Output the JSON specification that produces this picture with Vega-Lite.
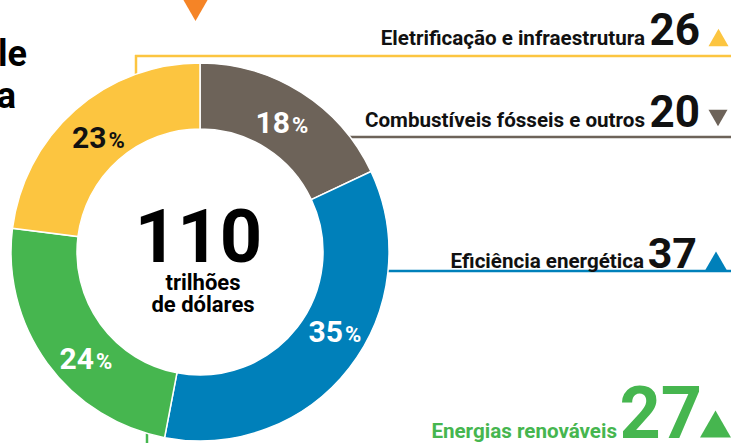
{
  "$schema": "https://vega.github.io/schema/vega-lite/v6.json",
  "width": 731,
  "height": 443,
  "autosize": "none",
  "padding": 0,
  "background": "#ffffff",
  "config": {"view": {"stroke": null}, "font": "Roboto"},
  "datasets": {
    "segmentos": [
      {"categoria": "Combustíveis fósseis e outros", "participacao": 18, "valor": 20, "tendencia": "queda", "ordem": 1},
      {"categoria": "Eficiência energética", "participacao": 35, "valor": 37, "tendencia": "alta", "ordem": 2},
      {"categoria": "Energias renováveis", "participacao": 24, "valor": 27, "tendencia": "alta", "ordem": 3},
      {"categoria": "Eletrificação e infraestrutura", "participacao": 23, "valor": 26, "tendencia": "alta", "ordem": 4}
    ],
    "centro": [
      {"linha": 1, "texto": "110"},
      {"linha": 2, "texto": "trilhões"},
      {"linha": 3, "texto": "de dólares"}
    ],
    "fragmentos": [
      {"linha": 1, "texto": "le"},
      {"linha": 2, "texto": "a"}
    ],
    "marcador": [{"tipo": "destaque"}]
  },
  "resolve": {"scale": {"x": "independent", "y": "independent", "color": "independent", "size": "independent"}},
  "layer": [
    {
      "data": {"name": "segmentos"},
      "transform": [{"filter": "datum.ordem != 3"}],
      "mark": {"type": "rule", "strokeWidth": 2.5},
      "encoding": {
        "x": {"field": "ordem", "type": "quantitative", "scale": {"domain": [1, 2, 3, 4], "range": [320, 330, 330, 135], "nice": false, "zero": false}, "axis": null},
        "x2": {"value": "width"},
        "y": {"field": "ordem", "type": "quantitative", "scale": {"domain": [1, 2, 3, 4], "range": [137, 271, 300, 56], "nice": false, "zero": false}, "axis": null},
        "color": {"field": "categoria", "type": "nominal", "scale": {"domain": ["Combustíveis fósseis e outros", "Eficiência energética", "Energias renováveis", "Eletrificação e infraestrutura"], "range": ["#6d6359", "#0080ba", "#46b64f", "#fcc540"]}, "legend": null}
      }
    },
    {
      "data": {"name": "segmentos"},
      "transform": [{"filter": "datum.ordem == 4"}],
      "mark": {"type": "rule", "strokeWidth": 2.5, "color": "#fcc540"},
      "encoding": {
        "x": {"datum": 136, "type": "quantitative", "scale": {"domain": [0, 731], "range": [0, 731], "nice": false, "zero": false}, "axis": null},
        "y": {"datum": 55, "type": "quantitative", "scale": {"domain": [0, 443], "range": [0, 443], "nice": false, "zero": false}, "axis": null},
        "y2": {"datum": 95}
      }
    },
    {
      "data": {"name": "segmentos"},
      "transform": [{"filter": "datum.ordem == 3"}],
      "mark": {"type": "rule", "strokeWidth": 2.5, "color": "#46b64f"},
      "encoding": {
        "x": {"datum": 147, "type": "quantitative", "scale": {"domain": [0, 731], "range": [0, 731], "nice": false, "zero": false}, "axis": null},
        "y": {"datum": 420, "type": "quantitative", "scale": {"domain": [0, 443], "range": [0, 443], "nice": false, "zero": false}, "axis": null},
        "y2": {"value": "height"}
      }
    },
    {
      "data": {"name": "segmentos"},
      "mark": {"type": "arc", "innerRadius": 123, "outerRadius": 189, "stroke": "#ffffff", "strokeWidth": 1.5},
      "encoding": {
        "x": {"datum": 200, "type": "quantitative", "scale": {"domain": [0, 731], "range": [0, 731], "nice": false, "zero": false}, "axis": null},
        "y": {"datum": 252, "type": "quantitative", "scale": {"domain": [0, 443], "range": [0, 443], "nice": false, "zero": false}, "axis": null},
        "theta": {"field": "participacao", "type": "quantitative", "stack": true},
        "order": {"field": "ordem", "type": "quantitative"},
        "color": {"field": "categoria", "type": "nominal", "scale": {"domain": ["Combustíveis fósseis e outros", "Eficiência energética", "Energias renováveis", "Eletrificação e infraestrutura"], "range": ["#6d6359", "#0080ba", "#46b64f", "#fcc540"]}, "legend": null}
      }
    },
    {
      "data": {"name": "segmentos"},
      "mark": {"type": "text", "align": "right", "baseline": "alphabetic", "dx": -1, "fontSize": 30, "fontWeight": "bold", "font": "Roboto"},
      "encoding": {
        "x": {"field": "ordem", "type": "quantitative", "scale": {"domain": [1, 2, 3, 4], "range": [291, 344, 95, 107.5], "nice": false, "zero": false}, "axis": null},
        "y": {"field": "ordem", "type": "quantitative", "scale": {"domain": [1, 2, 3, 4], "range": [133, 342, 369, 148], "nice": false, "zero": false}, "axis": null},
        "text": {"field": "participacao", "type": "quantitative"},
        "color": {"field": "categoria", "type": "nominal", "scale": {"domain": ["Combustíveis fósseis e outros", "Eficiência energética", "Energias renováveis", "Eletrificação e infraestrutura"], "range": ["#ffffff", "#ffffff", "#ffffff", "#111111"]}, "legend": null}
      }
    },
    {
      "data": {"name": "segmentos"},
      "mark": {"type": "text", "align": "left", "baseline": "alphabetic", "dx": 1, "fontSize": 22, "fontWeight": "bold", "font": "Roboto"},
      "encoding": {
        "x": {"field": "ordem", "type": "quantitative", "scale": {"domain": [1, 2, 3, 4], "range": [291, 344, 95, 107.5], "nice": false, "zero": false}, "axis": null},
        "y": {"field": "ordem", "type": "quantitative", "scale": {"domain": [1, 2, 3, 4], "range": [133, 342, 369, 148], "nice": false, "zero": false}, "axis": null},
        "text": {"value": "%"},
        "color": {"field": "categoria", "type": "nominal", "scale": {"domain": ["Combustíveis fósseis e outros", "Eficiência energética", "Energias renováveis", "Eletrificação e infraestrutura"], "range": ["#ffffff", "#ffffff", "#ffffff", "#111111"]}, "legend": null}
      }
    },
    {
      "data": {"name": "centro"},
      "transform": [{"filter": "datum.linha == 1"}],
      "mark": {"type": "text", "align": "center", "baseline": "alphabetic", "fontSize": 74, "fontWeight": "bold", "font": "Roboto", "color": "#000000"},
      "encoding": {
        "x": {"datum": 198.5, "type": "quantitative", "scale": {"domain": [0, 731], "range": [0, 731], "nice": false, "zero": false}, "axis": null},
        "y": {"datum": 262, "type": "quantitative", "scale": {"domain": [0, 443], "range": [0, 443], "nice": false, "zero": false}, "axis": null},
        "text": {"field": "texto", "type": "nominal"}
      }
    },
    {
      "data": {"name": "centro"},
      "transform": [{"filter": "datum.linha > 1"}],
      "mark": {"type": "text", "align": "center", "baseline": "alphabetic", "fontSize": 22, "fontWeight": "bold", "font": "Roboto", "color": "#000000"},
      "encoding": {
        "x": {"datum": 203, "type": "quantitative", "scale": {"domain": [0, 731], "range": [0, 731], "nice": false, "zero": false}, "axis": null},
        "y": {"field": "linha", "type": "quantitative", "scale": {"domain": [2, 3], "range": [290, 312], "nice": false, "zero": false}, "axis": null},
        "text": {"field": "texto", "type": "nominal"}
      }
    },
    {
      "data": {"name": "segmentos"},
      "mark": {"type": "text", "align": "right", "baseline": "alphabetic", "fontSize": 20.6, "fontWeight": "bold", "font": "Roboto"},
      "encoding": {
        "x": {"field": "ordem", "type": "quantitative", "scale": {"domain": [1, 2, 3, 4], "range": [645, 644, 617, 645], "nice": false, "zero": false}, "axis": null},
        "y": {"field": "ordem", "type": "quantitative", "scale": {"domain": [1, 2, 3, 4], "range": [127, 268, 438, 45], "nice": false, "zero": false}, "axis": null},
        "text": {"field": "categoria", "type": "nominal"},
        "color": {"field": "categoria", "type": "nominal", "scale": {"domain": ["Combustíveis fósseis e outros", "Eficiência energética", "Energias renováveis", "Eletrificação e infraestrutura"], "range": ["#111111", "#111111", "#46b64f", "#111111"]}, "legend": null}
      }
    },
    {
      "data": {"name": "segmentos"},
      "mark": {"type": "text", "align": "right", "baseline": "alphabetic", "fontWeight": "bold", "font": "Roboto"},
      "encoding": {
        "x": {"field": "ordem", "type": "quantitative", "scale": {"domain": [1, 2, 3, 4], "range": [700, 697, 702, 700], "nice": false, "zero": false}, "axis": null},
        "y": {"field": "ordem", "type": "quantitative", "scale": {"domain": [1, 2, 3, 4], "range": [127, 268, 438, 45], "nice": false, "zero": false}, "axis": null},
        "size": {"field": "ordem", "type": "quantitative", "scale": {"domain": [1, 2, 3, 4], "range": [44, 43, 72, 44], "nice": false, "zero": false}, "legend": null},
        "text": {"field": "valor", "type": "quantitative"},
        "color": {"field": "categoria", "type": "nominal", "scale": {"domain": ["Combustíveis fósseis e outros", "Eficiência energética", "Energias renováveis", "Eletrificação e infraestrutura"], "range": ["#111111", "#111111", "#46b64f", "#111111"]}, "legend": null}
      }
    },
    {
      "data": {"name": "segmentos"},
      "mark": {"type": "point", "filled": true, "opacity": 1, "strokeWidth": 0},
      "encoding": {
        "x": {"field": "ordem", "type": "quantitative", "scale": {"domain": [1, 2, 3, 4], "range": [718, 716, 715.5, 718.5], "nice": false, "zero": false}, "axis": null},
        "y": {"field": "ordem", "type": "quantitative", "scale": {"domain": [1, 2, 3, 4], "range": [118, 261, 424, 37.5], "nice": false, "zero": false}, "axis": null},
        "size": {"field": "ordem", "type": "quantitative", "scale": {"domain": [1, 2, 3, 4], "range": [361, 484, 961, 400], "nice": false, "zero": false}, "legend": null},
        "shape": {"field": "tendencia", "type": "nominal", "scale": {"domain": ["alta", "queda"], "range": ["triangle-up", "triangle-down"]}, "legend": null},
        "color": {"field": "categoria", "type": "nominal", "scale": {"domain": ["Combustíveis fósseis e outros", "Eficiência energética", "Energias renováveis", "Eletrificação e infraestrutura"], "range": ["#6d6359", "#0080ba", "#46b64f", "#fcc540"]}, "legend": null}
      }
    },
    {
      "data": {"name": "fragmentos"},
      "mark": {"type": "text", "align": "right", "baseline": "alphabetic", "fontSize": 36, "fontWeight": "bold", "font": "Roboto", "color": "#000000"},
      "encoding": {
        "x": {"field": "linha", "type": "quantitative", "scale": {"domain": [1, 2], "range": [27, 16], "nice": false, "zero": false}, "axis": null},
        "y": {"field": "linha", "type": "quantitative", "scale": {"domain": [1, 2], "range": [66, 108], "nice": false, "zero": false}, "axis": null},
        "text": {"field": "texto", "type": "nominal"}
      }
    },
    {
      "data": {"name": "marcador"},
      "mark": {"type": "point", "shape": "triangle-down", "filled": true, "opacity": 1, "color": "#f58426", "size": 1521, "strokeWidth": 0},
      "encoding": {
        "x": {"datum": 195.5, "type": "quantitative", "scale": {"domain": [0, 731], "range": [0, 731], "nice": false, "zero": false}, "axis": null},
        "y": {"datum": 4, "type": "quantitative", "scale": {"domain": [0, 443], "range": [0, 443], "nice": false, "zero": false}, "axis": null}
      }
    }
  ]
}
